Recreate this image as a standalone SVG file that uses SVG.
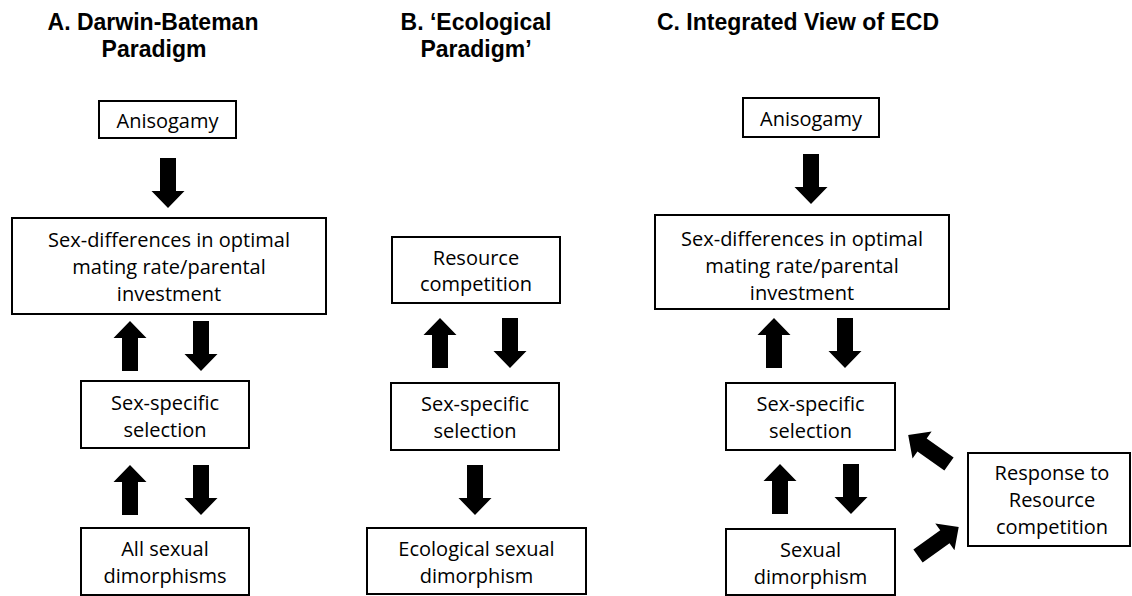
<svg xmlns="http://www.w3.org/2000/svg" width="1132" height="596" viewBox="0 0 1132 596">
<style>
.box{fill:#fff;stroke:#000;stroke-width:2}
.t{font-family:"Open Sans","Liberation Sans",sans-serif;font-size:20px;fill:#000;text-anchor:middle}
.h{font-family:"Liberation Sans",Arial,sans-serif;font-size:23px;font-weight:bold;fill:#000;text-anchor:middle}
.arr{fill:#000}
</style>
<defs>
<path id="ar" d="M-8,0 H8 V33 H16.5 L0,50 L-16.5,33 H-8 Z"/>
</defs>
<rect width="1132" height="596" fill="#fff"/>
<g id="titles">
<text class="h" x="153" y="30">A. Darwin-Bateman</text>
<text class="h" x="154" y="57">Paradigm</text>
<text class="h" x="476" y="30">B. ‘Ecological</text>
<text class="h" x="476" y="57">Paradigm’</text>
<text class="h" x="798" y="30">C. Integrated View of ECD</text>
</g>
<g id="connectors" class="arr">
<use href="#ar" transform="translate(168,158)"/>
<use href="#ar" transform="translate(130,371) rotate(180)"/>
<use href="#ar" transform="translate(201,321)"/>
<use href="#ar" transform="translate(130,515) rotate(180)"/>
<use href="#ar" transform="translate(201,465)"/>
<use href="#ar" transform="translate(440,368) rotate(180)"/>
<use href="#ar" transform="translate(510,318)"/>
<use href="#ar" transform="translate(475,465)"/>
<use href="#ar" transform="translate(811,154)"/>
<use href="#ar" transform="translate(774,368) rotate(180)"/>
<use href="#ar" transform="translate(845,318)"/>
<use href="#ar" transform="translate(780,514) rotate(180)"/>
<use href="#ar" transform="translate(851,464)"/>
<use href="#ar" transform="translate(949,464) rotate(125.3)"/>
<use href="#ar" transform="translate(918,556) rotate(-125.5)"/>
</g>
<g id="a-anisogamy">
<rect class="box" x="99" y="101" width="137" height="37"/>
<text class="t" x="167.5" y="128">Anisogamy</text>
</g>
<g id="a-sexdiff">
<rect class="box" x="12" y="218" width="314" height="96"/>
<text class="t" x="169" y="247">Sex-differences in optimal</text>
<text class="t" x="169" y="274">mating rate/parental</text>
<text class="t" x="169" y="301">investment</text>
</g>
<g id="a-selection">
<rect class="box" x="81" y="381" width="168" height="67"/>
<text class="t" x="165" y="410">Sex-specific</text>
<text class="t" x="165" y="437">selection</text>
</g>
<g id="a-dimorph">
<rect class="box" x="81" y="528" width="168" height="67"/>
<text class="t" x="165" y="556">All sexual</text>
<text class="t" x="165" y="583">dimorphisms</text>
</g>
<g id="b-resource">
<rect class="box" x="392" y="237" width="168" height="66"/>
<text class="t" x="476" y="265">Resource</text>
<text class="t" x="476" y="291">competition</text>
</g>
<g id="b-selection">
<rect class="box" x="391" y="383" width="168" height="67"/>
<text class="t" x="475" y="411">Sex-specific</text>
<text class="t" x="475" y="438">selection</text>
</g>
<g id="b-dimorph">
<rect class="box" x="367" y="528" width="219" height="66"/>
<text class="t" x="476.5" y="556">Ecological sexual</text>
<text class="t" x="476.5" y="583">dimorphism</text>
</g>
<g id="c-anisogamy">
<rect class="box" x="743" y="98" width="136" height="39"/>
<text class="t" x="811" y="126">Anisogamy</text>
</g>
<g id="c-sexdiff">
<rect class="box" x="655" y="215" width="294" height="94"/>
<text class="t" x="802" y="246">Sex-differences in optimal</text>
<text class="t" x="802" y="273">mating rate/parental</text>
<text class="t" x="802" y="300">investment</text>
</g>
<g id="c-selection">
<rect class="box" x="726" y="383" width="169" height="67"/>
<text class="t" x="810.5" y="411">Sex-specific</text>
<text class="t" x="810.5" y="438">selection</text>
</g>
<g id="c-dimorph">
<rect class="box" x="726" y="529" width="169" height="66"/>
<text class="t" x="810.5" y="557">Sexual</text>
<text class="t" x="810.5" y="584">dimorphism</text>
</g>
<g id="c-response">
<rect class="box" x="968" y="453" width="162" height="93"/>
<text class="t" x="1052" y="480">Response to</text>
<text class="t" x="1052" y="507">Resource</text>
<text class="t" x="1052" y="534">competition</text>
</g>
</svg>
